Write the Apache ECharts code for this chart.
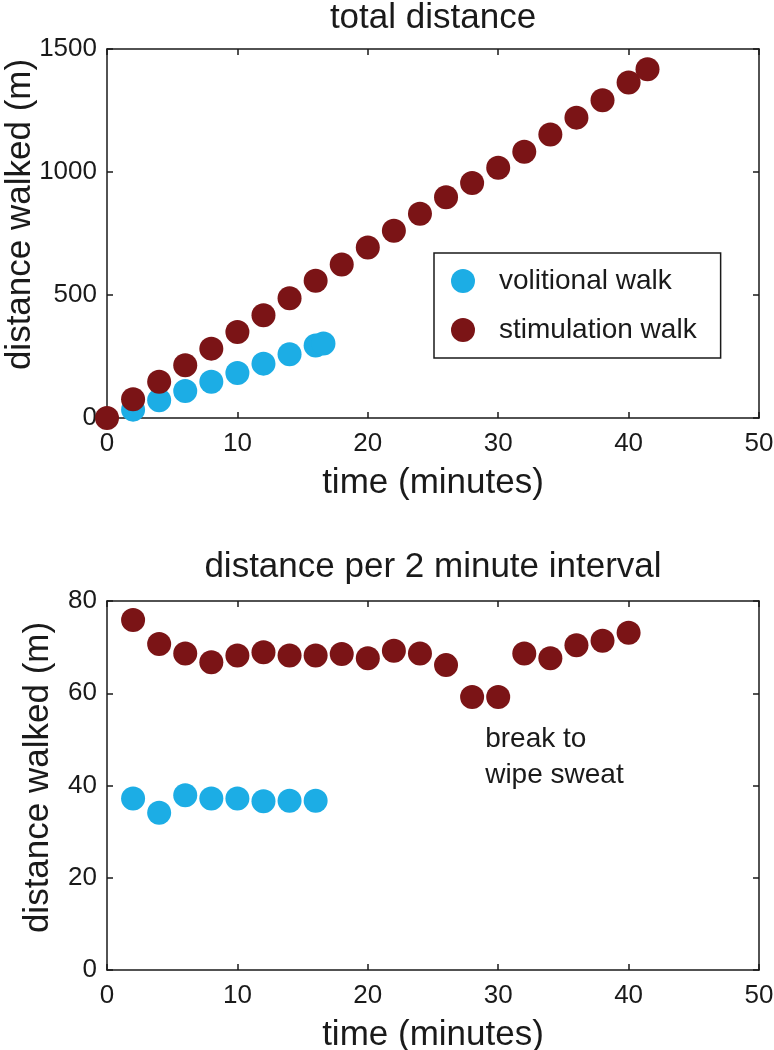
<!DOCTYPE html>
<html><head><meta charset="utf-8">
<script src="https://cdn.jsdelivr.net/npm/echarts@6/dist/echarts.min.js"></script>
<style>html,body{margin:0;padding:0;background:#fff}#c{width:774px;height:1050px}</style>
</head><body><div id="c"></div><script>
// ---- data ----
const seriesNames = ['volitional walk', 'stimulation walk'];
const chartTitles = ['total distance', 'distance per 2 minute interval'];
const xAxisName = 'time (minutes)';
const yAxisName = 'distance walked (m)';

// total distance (top)
const timeVolTotal = [2, 4, 6, 8, 10, 12, 14, 16, 16.6];
const distVolTotal = [34, 72, 110, 147, 183, 221, 259, 295, 303];
const timeStimTotal = [0, 2, 4, 6, 8, 10, 12, 14, 16, 18, 20, 22, 24, 26, 28, 30, 32, 34, 36, 38, 40, 41.45];
const distStimTotal = [0, 76, 147, 214, 282, 350, 418, 487, 558, 624, 693, 761, 830, 897, 955, 1017, 1082, 1152, 1221, 1292, 1364, 1418];

// distance per 2 minute interval (bottom)
const timeVolInterval = [2, 4, 6, 8, 10, 12, 14, 16];
const distVolInterval = [37.2, 34.1, 37.9, 37.2, 37.2, 36.6, 36.7, 36.7];
const timeStimInterval = [2, 4, 6, 8, 10, 12, 14, 16, 18, 20, 22, 24, 26, 28, 30, 32, 34, 36, 38, 40];
const distStimInterval = [75.9, 70.7, 68.6, 66.7, 68.2, 68.9, 68.2, 68.2, 68.5, 67.6, 69.2, 68.6, 66.1, 59.2, 59.2, 68.6, 67.6, 70.4, 71.4, 73.1];

// axes
const xRange = [0, 50], xStep = 10;
const yTopRange = [0, 1500], yTopStep = 500;
const yBotRange = [0, 80], yBotStep = 20;

// annotation
const annotationText = 'break to\nwipe sweat';
const annotationAt = [29, 54];

// ---- style ----
const FONT = "'Liberation Sans', Arial, Helvetica, sans-serif";
const INK = '#1a1a1a';
const CYAN = '#1cade5';
const MAROON = '#7b1416';
const GRID_L = 107, GRID_R = 15, PLOT_H = 369;
const GRIDS = [{top: 49}, {top: 601}];
const PLOT_CX = GRID_L + (774 - GRID_L - GRID_R) / 2;

const lineStyle = {color: INK, width: 1.5};
const plainNum = v => String(v);

function xAxes(gi) {
  return [
    {type: 'value', gridIndex: gi, min: xRange[0], max: xRange[1], interval: xStep, position: 'bottom',
     axisLine: {show: true, onZero: false, lineStyle},
     axisTick: {show: true, inside: true, length: 6, lineStyle},
     axisLabel: {show: true, margin: 13, fontSize: 26, color: INK, fontFamily: FONT, formatter: plainNum},
     splitLine: {show: false},
     name: xAxisName, nameLocation: 'middle', nameGap: 48, nameMoveOverlap: false,
     nameTextStyle: {fontSize: 35, color: INK, fontFamily: FONT}},
    {type: 'value', gridIndex: gi, min: xRange[0], max: xRange[1], interval: xStep, position: 'top',
     axisLine: {show: true, onZero: false, lineStyle},
     axisTick: {show: true, inside: true, length: 6, lineStyle},
     axisLabel: {show: false}, splitLine: {show: false}}
  ];
}
function yAxes(gi, range, step, gap, shift) {
  return [
    {type: 'value', gridIndex: gi, min: range[0], max: range[1], interval: step, position: 'left',
     axisLine: {show: true, onZero: false, lineStyle},
     axisTick: {show: true, inside: true, length: 6, lineStyle},
     axisLabel: {show: true, margin: 10, fontSize: 26, color: INK, fontFamily: FONT, formatter: plainNum},
     splitLine: {show: false},
     name: yAxisName, nameLocation: 'middle', nameGap: gap, nameMoveOverlap: false,
     nameTextStyle: {fontSize: 35, color: INK, fontFamily: FONT, padding: [0, 0, 0, shift]}},
    {type: 'value', gridIndex: gi, min: range[0], max: range[1], interval: step, position: 'right',
     axisLine: {show: true, onZero: false, lineStyle},
     axisTick: {show: true, inside: true, length: 6, lineStyle},
     axisLabel: {show: false}, splitLine: {show: false}}
  ];
}
const zip = (xs, ys) => xs.map((x, i) => [x, ys[i]]);
function scatter(name, color, data, xi, yi) {
  return {type: 'scatter', name, data, xAxisIndex: xi, yAxisIndex: yi, symbol: 'circle', symbolSize: 24,
          clip: false, itemStyle: {color, opacity: 1}, emphasis: {disabled: true}};
}

const chart = echarts.init(document.getElementById('c'), null, {renderer: 'canvas'});
chart.setOption({
  animation: false,
  backgroundColor: '#ffffff',
  textStyle: {fontFamily: FONT},
  title: [
    {text: chartTitles[0], left: PLOT_CX, top: 1, textAlign: 'center', padding: 0,
     textStyle: {fontSize: 35, fontWeight: 'normal', color: INK, fontFamily: FONT}},
    {text: chartTitles[1], left: PLOT_CX, top: 550, textAlign: 'center', padding: 0,
     textStyle: {fontSize: 35, fontWeight: 'normal', color: INK, fontFamily: FONT}}
  ],
  legend: {
    data: seriesNames, orient: 'vertical', left: 434, top: 253,
    padding: [14, 24, 14, 17], itemWidth: 24, itemHeight: 24, itemGap: 21, icon: 'circle',
    borderColor: INK, borderWidth: 1.5, borderRadius: 0, selectedMode: false,
    textStyle: {fontSize: 28, color: INK, fontFamily: FONT, padding: [0, 0, 0, 19]}
  },
  grid: GRIDS.map(g => ({left: GRID_L, right: GRID_R, top: g.top, height: PLOT_H, show: false,
    containLabel: false, outerBoundsMode: 'none'})),
  xAxis: [...xAxes(0), ...xAxes(1)],
  yAxis: [...yAxes(0, yTopRange, yTopStep, 69, 38), ...yAxes(1, yBotRange, yBotStep, 51, 16)],
  series: [
    scatter(seriesNames[0], CYAN, zip(timeVolTotal, distVolTotal), 0, 0),
    scatter(seriesNames[1], MAROON, zip(timeStimTotal, distStimTotal), 0, 0),
    scatter(seriesNames[0], CYAN, zip(timeVolInterval, distVolInterval), 2, 2),
    scatter(seriesNames[1], MAROON, zip(timeStimInterval, distStimInterval), 2, 2)
  ]
});
const p = chart.convertToPixel({xAxisIndex: 2, yAxisIndex: 2}, annotationAt);
chart.setOption({
  graphic: [{type: 'text', left: p[0], top: p[1], silent: true,
    style: {text: annotationText, fontSize: 28, lineHeight: 36, fill: INK, fontFamily: FONT}}]
});
</script></body></html>
